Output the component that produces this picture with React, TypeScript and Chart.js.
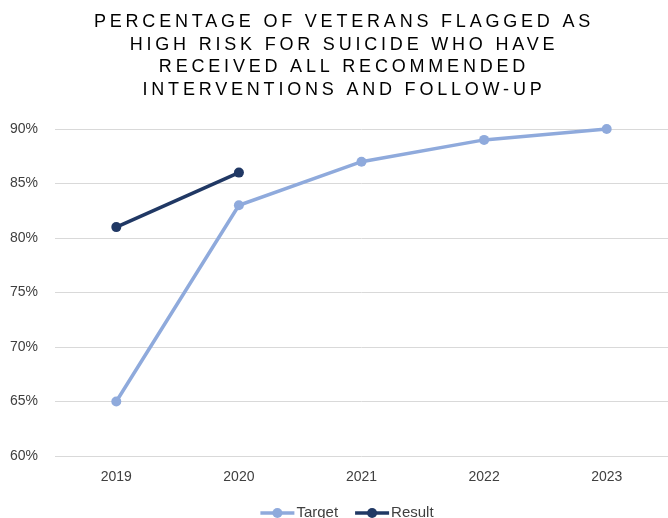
import React, { useEffect, useRef } from "react";
import { Chart, registerables } from "chart.js";

Chart.register(...registerables);

const years = ["2019", "2020", "2021", "2022", "2023"];
const targetValues = [65, 83, 87, 89, 90];
const resultValues: (number | null)[] = [81, 86, null, null, null];
const titleLines = [
  "PERCENTAGE OF VETERANS FLAGGED AS",
  "HIGH RISK FOR SUICIDE WHO HAVE",
  "RECEIVED ALL RECOMMENDED",
  "INTERVENTIONS AND FOLLOW-UP",
];
const yMin = 60;
const yMax = 90;
const yStep = 5;

const TARGET_COLOR = "#8faadc";
const RESULT_COLOR = "#203864";
const TEXT_COLOR = "#404040";
const TICK_FONT = "Liberation Sans, Arial, sans-serif";

const titleAndLegend = {
  id: "titleAndLegend",
  afterDraw(chart: Chart) {
    const ctx = chart.ctx;
    const cx = chart.width / 2;
    ctx.save();
    // Spaced-out heading
    ctx.fillStyle = "#000000";
    ctx.font = "18px 'Liberation Sans', Arial, sans-serif";
    (ctx as any).letterSpacing = "3.8px";
    ctx.textAlign = "center";
    ctx.textBaseline = "middle";
    titleLines.forEach((line, i) => {
      ctx.fillText(line, cx - 1, 22 + i * 22.7);
    });
    (ctx as any).letterSpacing = "0px";

    // Legend entries: line swatch with a marker, then label
    const items = [
      { label: "Target", color: TARGET_COLOR },
      { label: "Result", color: RESULT_COLOR },
    ];
    ctx.font = `15px ${TICK_FONT}`;
    ctx.textAlign = "left";
    const swatch = 34;
    const gapText = 2;
    const gapItems = 17;
    const widths = items.map((it) => swatch + gapText + ctx.measureText(it.label).width);
    const total = widths.reduce((a, b) => a + b, 0) + gapItems;
    let x = cx + 2 - total / 2;
    const y = 513;
    items.forEach((it, i) => {
      ctx.strokeStyle = it.color;
      ctx.lineWidth = 3.5;
      ctx.beginPath();
      ctx.moveTo(x, y);
      ctx.lineTo(x + swatch, y);
      ctx.stroke();
      ctx.fillStyle = it.color;
      ctx.beginPath();
      ctx.arc(x + swatch / 2, y, 5, 0, Math.PI * 2);
      ctx.fill();
      ctx.fillStyle = TEXT_COLOR;
      ctx.fillText(it.label, x + swatch + gapText, y);
      x += widths[i] + gapItems;
    });
    ctx.restore();
  },
};

export default function App() {
  const canvasRef = useRef<HTMLCanvasElement | null>(null);

  useEffect(() => {
    document.body.style.margin = "0";
    const canvas = canvasRef.current;
    if (!canvas) return;
    const chart = new Chart(canvas, {
      type: "line",
      data: {
        labels: years,
        datasets: [
          {
            label: "Target",
            data: targetValues,
            borderColor: TARGET_COLOR,
            backgroundColor: TARGET_COLOR,
            borderWidth: 3.5,
            pointRadius: 5,
            pointBorderWidth: 0,
            pointHoverRadius: 5,
            tension: 0,
            clip: false as any,
          },
          {
            label: "Result",
            data: resultValues,
            borderColor: RESULT_COLOR,
            backgroundColor: RESULT_COLOR,
            borderWidth: 3.5,
            pointRadius: 5,
            pointBorderWidth: 0,
            pointHoverRadius: 5,
            tension: 0,
            clip: false as any,
          },
        ],
      },
      options: {
        animation: false,
        responsive: false,
        devicePixelRatio: 1,
        layout: { padding: { top: 129, right: 22, left: 0, bottom: 0 } },
        plugins: {
          legend: { display: false },
          title: { display: false },
          tooltip: { enabled: false },
        },
        scales: {
          x: {
            offset: true,
            grid: { display: false, drawTicks: false },
            border: { display: false },
            ticks: {
              color: TEXT_COLOR,
              font: { family: TICK_FONT, size: 14 },
              padding: 13,
            },
            afterFit(scale: any) {
              scale.height = 62;
            },
          },
          y: {
            min: yMin,
            max: yMax,
            grid: { color: "#d9d9d9", lineWidth: 1, drawTicks: false },
            border: { display: false },
            ticks: {
              stepSize: yStep,
              color: TEXT_COLOR,
              font: { family: TICK_FONT, size: 14 },
              padding: 17,
              callback: (v: any) => `${v}%`,
            },
            afterFit(scale: any) {
              scale.width = 55;
            },
          },
        },
      },
      plugins: [titleAndLegend],
    });
    return () => chart.destroy();
  }, []);

  return (
    <div
      style={{
        position: "fixed",
        left: 0,
        top: 0,
        width: 668,
        height: 518,
        overflow: "hidden",
        background: "#ffffff",
      }}
    >
      <canvas ref={canvasRef} width={690} height={518} style={{ width: 690, height: 518 }} />
    </div>
  );
}
